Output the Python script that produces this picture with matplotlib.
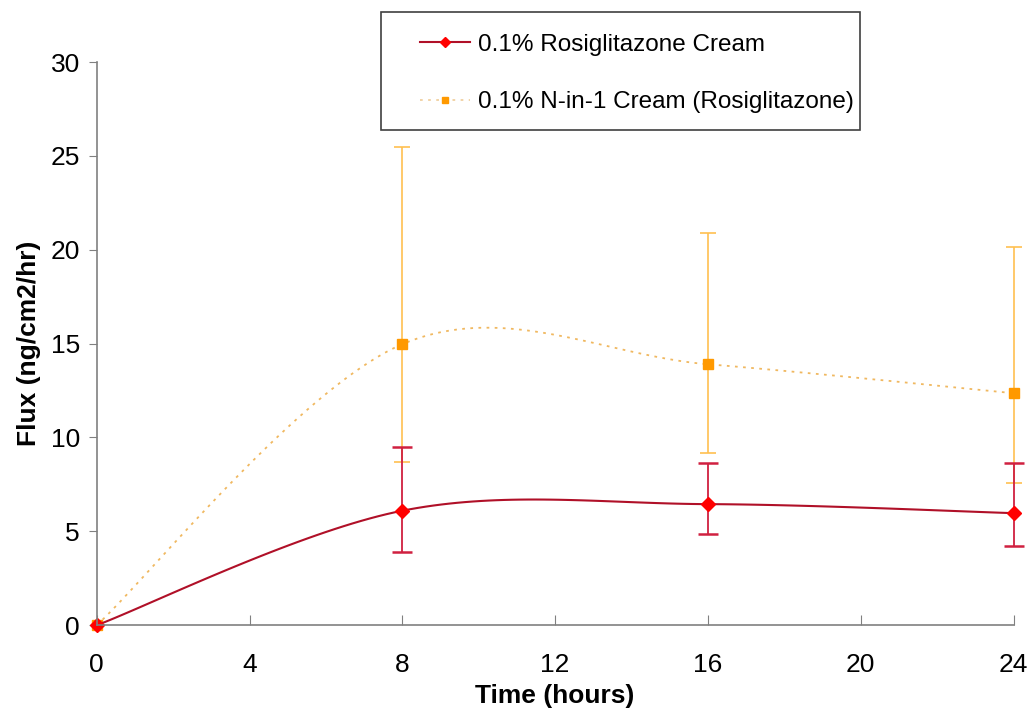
import numpy as np
import matplotlib
matplotlib.use("Agg")
import matplotlib.pyplot as plt
from matplotlib.patches import Rectangle

# data
time_h = [0, 8, 16, 24]
rosi = [0.0, 6.1, 6.45, 5.97]
rosi_hi = [0.0, 3.4, 2.2, 2.65]
rosi_lo = [0.0, 2.2, 1.6, 1.75]
nin1 = [0.0, 14.97, 13.9, 12.36]
nin1_hi = [0.0, 10.5, 7.0, 7.8]
nin1_lo = [0.0, 6.3, 4.7, 4.8]

plt.rcParams['font.family'] = ['Liberation Sans', 'DejaVu Sans']


def smooth(x, y, n=40):
    # cardinal spline like excel's smoothed line
    x = np.asarray(x, float); y = np.asarray(y, float)
    px = np.concatenate([[x[0]], x, [x[-1]]])
    py = np.concatenate([[y[0]], y, [y[-1]]])
    xs, ys = [], []
    for i in range(1, len(px) - 2):
        t = np.linspace(0, 1, n)
        p0, p1, p2, p3 = [np.array([px[j], py[j]]) for j in (i - 1, i, i + 1, i + 2)]
        m1 = (p2 - p0) / 2.0
        m2 = (p3 - p1) / 2.0
        h00 = 2*t**3 - 3*t**2 + 1
        h10 = t**3 - 2*t**2 + t
        h01 = -2*t**3 + 3*t**2
        h11 = t**3 - t**2
        pts = np.outer(h00, p1) + np.outer(h10, m1) + np.outer(h01, p2) + np.outer(h11, m2)
        xs.extend(pts[:, 0]); ys.extend(pts[:, 1])
    return np.array(xs), np.array(ys)


fig = plt.figure(figsize=(10.29, 7.17), dpi=100)
ax = fig.add_axes([0.094, 0.128, 0.891, 0.7855])

# orange series
sx, sy = smooth(time_h, nin1)
ax.plot(sx, sy, color='#f0b860', lw=1.3, ls=(0, (1.5, 3)))
ax.errorbar(time_h[1:], nin1[1:], yerr=[nin1_lo[1:], nin1_hi[1:]], fmt='none',
            ecolor='#ffc050', elinewidth=1.2, capsize=6, capthick=1.2)
ax.plot(time_h, nin1, ls='none', marker='s', ms=7, color='#ff9900')

# red series
sx, sy = smooth(time_h, rosi)
ax.plot(sx, sy, color='#b01028', lw=1.5)
ax.errorbar(time_h[1:], rosi[1:], yerr=[rosi_lo[1:], rosi_hi[1:]], fmt='none',
            ecolor='#d02040', elinewidth=1.3, capsize=7, capthick=1.8)
ax.plot(time_h, rosi, ls='none', marker='D', ms=7, color='#ff0000')

ax.set_xlim(0, 24)
ax.set_ylim(0, 30)
ax.set_xticks([0, 4, 8, 12, 16, 20, 24])
ax.set_yticks([0, 5, 10, 15, 20, 25, 30])
for s in ['top', 'right']:
    ax.spines[s].set_visible(False)
for s in ['left', 'bottom']:
    ax.spines[s].set_color('#808080')
    ax.spines[s].set_linewidth(1.2)
ax.tick_params(axis='y', direction='out', length=6, color='#808080', labelsize=19, pad=6)
ax.tick_params(axis='x', direction='in', length=7, color='#808080', labelsize=19, pad=20)
for art in ax.lines + ax.collections:
    art.set_clip_on(False)

ax.set_xlabel('Time (hours)', fontsize=19, fontweight='bold')
ax.set_ylabel('Flux (ng/cm2/hr)', fontsize=19, fontweight='bold')
ax.xaxis.set_label_coords(0.5, -0.105)
ax.yaxis.set_label_coords(-0.061, 0.5)

# legend: box drawn separately so the padding can match
fig.patches.append(Rectangle((0.370, 1 - 130/717), 0.466, 118/717, transform=fig.transFigure,
                             fill=False, edgecolor='#404040', lw=1.2))
h1, = ax.plot([], [], color='#b01028', lw=1.5, marker='D', ms=5, mfc='#ff0000', mec='#ff0000')
h2, = ax.plot([], [], color='#f0d0a0', lw=1.3, ls=(0, (1.5, 3)), marker='s', ms=5,
              mfc='#ff9900', mec='#ff9900')
leg = fig.legend([h1, h2], ['0.1% Rosiglitazone Cream', '0.1% N-in-1 Cream (Rosiglitazone)'],
                 loc='upper left', bbox_to_anchor=(0.408, 0.9526), fontsize=17.5,
                 frameon=False, handlelength=2.05, handletextpad=0.35,
                 labelspacing=1.45, borderpad=0, borderaxespad=0)

fig.savefig('out.png', dpi=100)
